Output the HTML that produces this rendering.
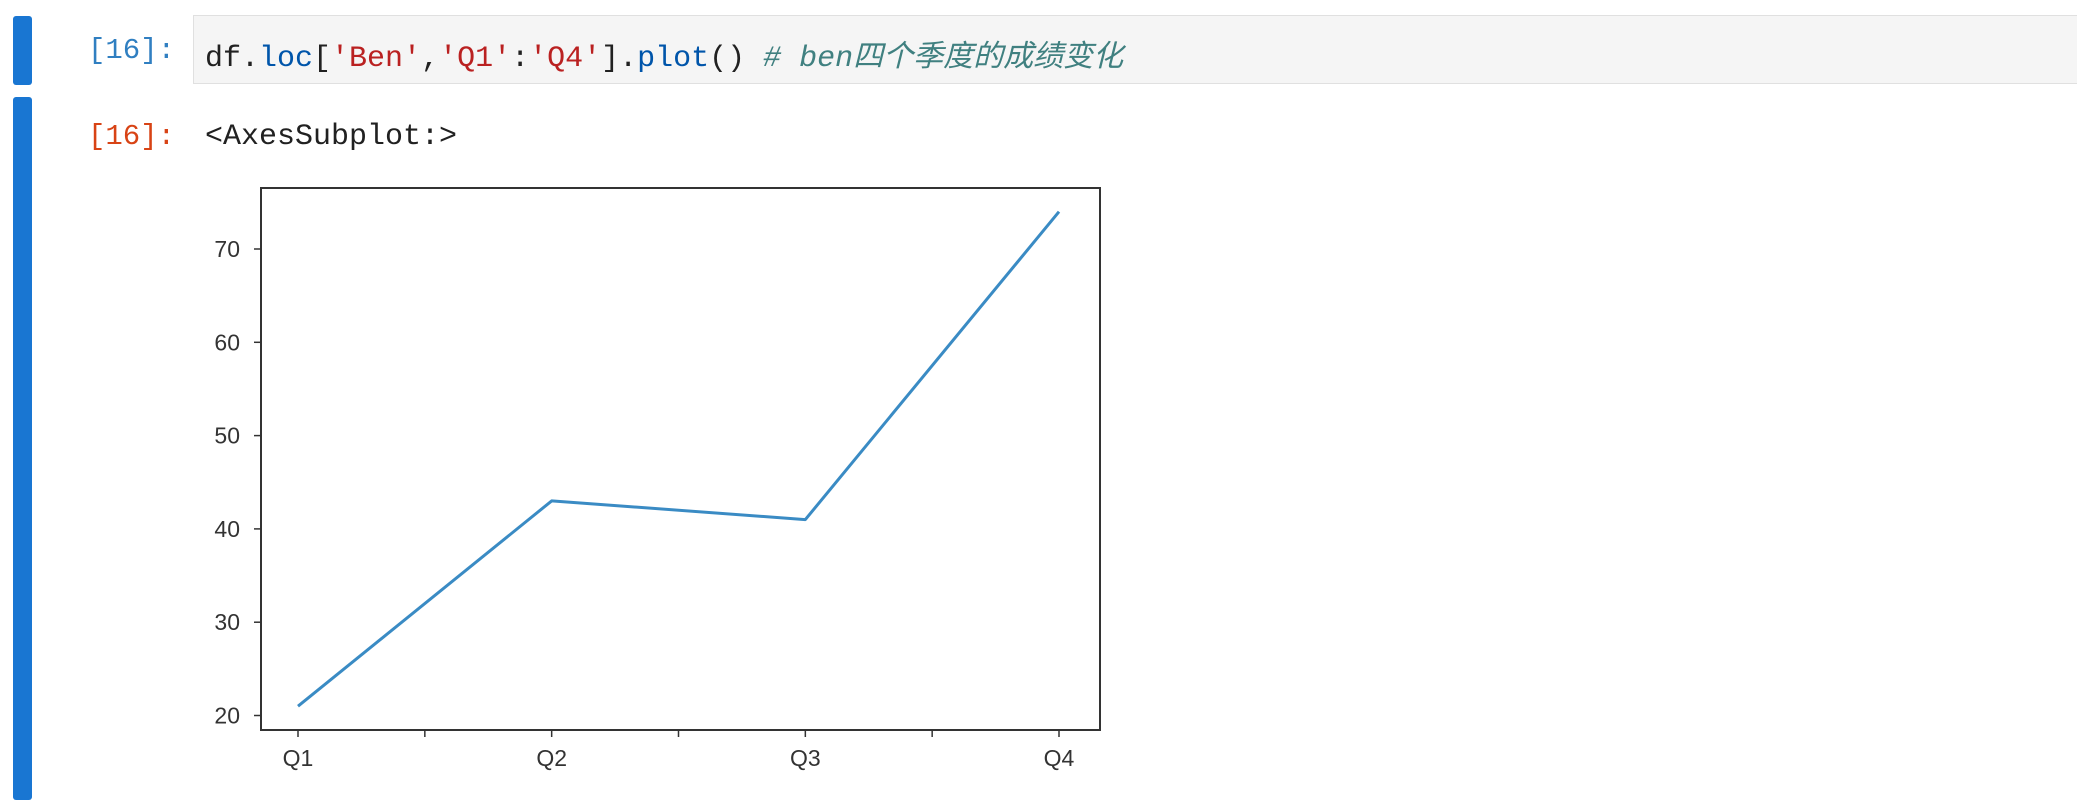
<!DOCTYPE html>
<html><head><meta charset="utf-8"><style>
body{margin:0;width:2077px;height:811px;background:#fff;position:relative;overflow:hidden;font-family:"Liberation Mono","Noto Sans CJK SC",monospace}
.abs{position:absolute}
</style></head><body>
<div class="abs" style="left:13px;top:16px;width:19px;height:69px;background:#1976d2;border-radius:3px"></div>
<div class="abs" style="left:13px;top:97px;width:19px;height:703px;background:#1976d2;border-radius:3px"></div>
<div class="abs" style="left:88px;top:34px;font-size:29px;color:#307fc1">[16]:</div>
<div class="abs" style="left:193px;top:15px;width:1890px;height:69px;background:#f5f5f5;border:1px solid #e0e0e0;box-sizing:border-box"></div>
<div class="abs" style="left:205px;top:31px;font-size:30px;white-space:pre;color:#212121">df.<span style="color:#0055aa">loc</span>[<span style="color:#ba2121">'Ben'</span>,<span style="color:#ba2121">'Q1'</span>:<span style="color:#ba2121">'Q4'</span>].<span style="color:#0055aa">plot</span>() <i style="color:#408080"># ben四个季度的成绩变化</i></div>
<div class="abs" style="left:88px;top:120px;font-size:29px;color:#d84315">[16]:</div>
<div class="abs" style="left:205px;top:120px;font-size:30px;color:#212121">&lt;AxesSubplot:&gt;</div>
<svg class="abs" style="left:0;top:0" width="2077" height="811" id="chart"></svg>
<script>
const categories=['Q1','Q2','Q3','Q4'];
const values=[21,43,41,74];
const yTicks=[20,30,40,50,60,70];
const svg=document.getElementById('chart');
const NS='http://www.w3.org/2000/svg';
const L=261,R=1100,T=188,B=730;
const x=i=>298+i*(1059-298)/(categories.length-1);
const y=v=>715.5-(v-20)*(715.5-249)/50;
function mk(t,a){const e=document.createElementNS(NS,t);for(const k in a)e.setAttribute(k,a[k]);svg.appendChild(e);return e;}
const frame=mk('rect',{x:L,y:T,width:R-L,height:B-T,fill:'none',stroke:'#333','stroke-width':2});


yTicks.forEach(v=>{
  const tk=mk('line',{x1:L-7,x2:L,y1:y(v),y2:y(v),stroke:'#333','stroke-width':1.5});
  
  
  const t=mk('text',{x:L-21,y:y(v)+8,'text-anchor':'end','font-size':23,fill:'#333','font-family':'Liberation Sans, sans-serif'});
  t.textContent=v;
  
  
});
for(let k=0;k<=2*(categories.length-1);k++){
  const xx=x(k/2);
  const tk=mk('line',{x1:xx,x2:xx,y1:B,y2:B+7,stroke:'#333','stroke-width':1.5});
  
  
}
categories.forEach((c,i)=>{
  const t=mk('text',{x:x(i),y:B+36,'text-anchor':'middle','font-size':23,fill:'#333','font-family':'Liberation Sans, sans-serif'});
  t.textContent=c;
  
  
});
const line=mk('polyline',{points:values.map((v,i)=>x(i)+','+y(v)).join(' '),fill:'none',stroke:'#3a8bc4','stroke-width':3,'stroke-linejoin':'round'});


</script>
</body></html>
